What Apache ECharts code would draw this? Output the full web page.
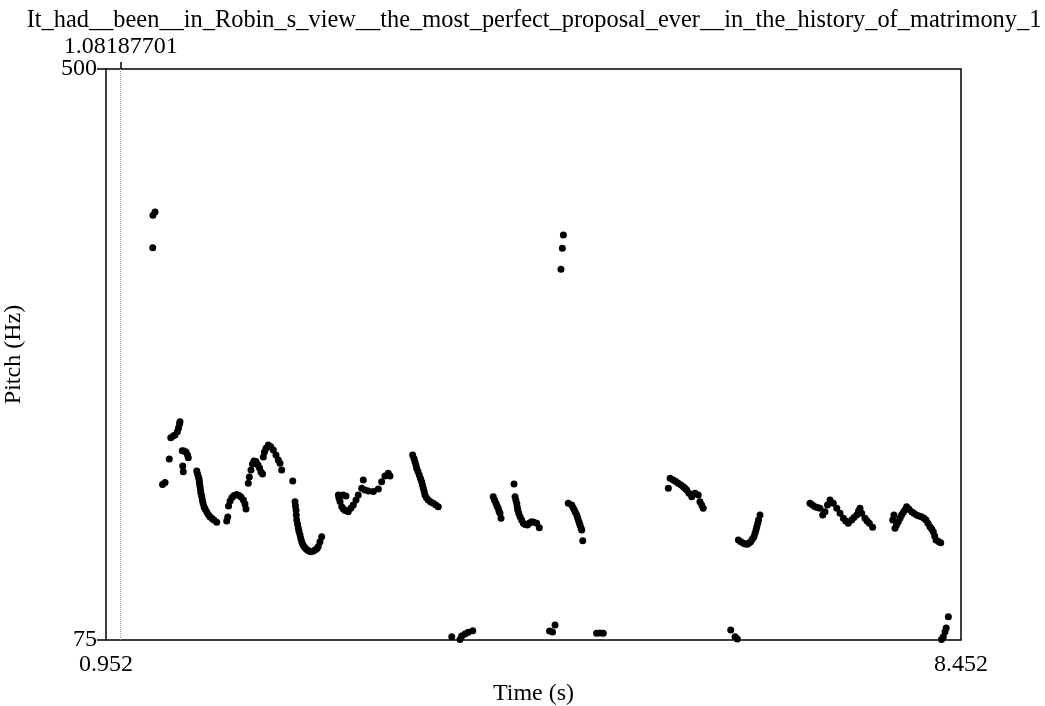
<!DOCTYPE html>
<html>
<head>
<meta charset="utf-8">
<script src="https://cdn.jsdelivr.net/npm/echarts@6/dist/echarts.min.js"></script>
<style>
  html, body { margin: 0; padding: 0; background: #fff; }
  #chart { width: 1045px; height: 706px; }
</style>
</head>
<body>
<div id="chart"></div>
<script>
const chartTitle = "It_had__been__in_Robin_s_view__the_most_perfect_proposal_ever__in_the_history_of_matrimony_1";
const cursorTime = 1.08187701;
const xTicks = [0.952, 8.452];
const yTicks = [75, 500];

// pitch track, time (s)
const times = [
  1.364, 1.382, 1.362,
  1.448, 1.470, 1.507,
  1.520, 1.542, 1.557, 1.578, 1.588, 1.597, 1.601,
  1.621, 1.636, 1.654, 1.667, 1.674, 1.625, 1.630,
  1.748, 1.755, 1.762, 1.768, 1.771, 1.774, 1.777, 1.781, 1.785, 1.792, 1.797, 1.803, 1.812, 1.821, 1.835, 1.849, 1.864, 1.882, 1.899, 1.923,
  2.011, 2.020, 2.027, 2.040, 2.057, 2.075, 2.099, 2.119, 2.136, 2.157, 2.171, 2.180,
  2.200, 2.209, 2.224, 2.237, 2.250, 2.268, 2.285, 2.299, 2.312, 2.325, 2.332, 2.342, 2.356, 2.376, 2.397, 2.420, 2.443, 2.463, 2.478, 2.493,
  2.590,
  2.610, 2.614, 2.619, 2.621, 2.625, 2.632, 2.639, 2.645, 2.654, 2.661, 2.669, 2.678, 2.689, 2.702, 2.718, 2.733, 2.748, 2.768, 2.785, 2.803, 2.814, 2.829, 2.844,
  2.990, 2.996, 3.005, 3.020, 3.034, 3.049, 3.077, 3.031, 3.057, 3.099, 3.121, 3.145, 3.165, 3.195, 3.209, 3.224, 3.253, 3.297, 3.341, 3.370, 3.399, 3.428, 3.443,
  3.642, 3.654, 3.662, 3.671, 3.677, 3.689, 3.700, 3.711, 3.721, 3.728, 3.735, 3.743, 3.750, 3.763, 3.779, 3.801, 3.823, 3.845, 3.867,
  3.985, 4.057, 4.072, 4.101, 4.130, 4.169,
  4.349, 4.360, 4.373, 4.382, 4.393, 4.399, 4.408, 4.417,
  4.531,
  4.540, 4.547, 4.555, 4.559, 4.564, 4.573, 4.584, 4.598, 4.613, 4.630, 4.648, 4.667, 4.686, 4.706, 4.730, 4.753,
  4.843, 4.869, 4.891,
  4.964, 4.955, 4.943,
  5.007, 5.037, 5.048, 5.060, 5.070, 5.081, 5.088, 5.095, 5.103, 5.110, 5.119, 5.125, 5.134,
  5.256, 5.285, 5.314,
  5.885, 5.900, 5.928, 5.950, 5.972, 5.996, 6.016, 6.031, 6.046, 6.066, 6.090, 6.119, 6.147, 6.162, 6.177, 6.191,
  6.432, 6.470, 6.490,
  6.499, 6.521, 6.543, 6.560, 6.578, 6.592, 6.607, 6.621, 6.636, 6.645, 6.654, 6.661, 6.669, 6.676, 6.689,
  7.127, 7.149, 7.171, 7.193, 7.215, 7.239, 7.259, 7.281, 7.303, 7.332, 7.362, 7.391, 7.420, 7.441, 7.463, 7.493, 7.513, 7.537, 7.553, 7.566, 7.581, 7.610, 7.628, 7.648, 7.677,
  7.853, 7.864, 7.873, 7.886, 7.902, 7.917, 7.931, 7.945, 7.960, 7.975, 7.995, 8.019, 8.039, 8.063, 8.083, 8.106, 8.127, 8.145, 8.162, 8.180, 8.195, 8.209, 8.221, 8.233, 8.255, 8.274,
  8.281, 8.297, 8.312, 8.322, 8.341
];

// pitch (Hz), same order as times
const pitches = [
  391.2, 393.6, 367.0,
  190.7, 192.2, 209.7,
  225.6, 226.8, 227.6, 230.0, 232.8, 235.8, 237.5,
  215.9, 215.7, 214.9, 212.7, 210.7, 204.5, 200.2,
  200.8, 198.6, 196.5, 194.8, 192.8, 191.1, 189.1, 186.6, 184.2, 181.8, 179.2, 177.0, 174.2, 172.5, 170.5, 168.4, 166.8, 165.4, 164.3, 162.6,
  163.6, 166.5, 174.7, 178.4, 181.0, 182.5, 183.3, 182.5, 181.4, 179.2, 176.2, 172.5,
  191.6, 196.3, 201.5, 206.0, 208.2, 207.9, 205.3, 203.0, 200.0, 198.6, 211.2, 214.9, 217.7, 220.1, 218.9, 216.4, 212.7, 209.0, 206.5, 201.5,
  193.3,
  177.9, 174.7, 171.8, 168.0, 164.3, 161.3, 158.1, 155.8, 153.2, 150.5, 148.2, 146.1, 144.5, 143.1, 142.0, 141.2, 140.7, 141.0, 142.0, 143.1, 144.5, 148.2, 151.9,
  182.9, 180.7, 178.1, 174.2, 172.5, 171.4, 170.5, 182.9, 182.2, 173.0, 175.5, 179.2, 182.9, 187.9, 194.1, 186.6, 185.9, 185.5, 187.4, 192.8, 197.1, 199.1, 197.1,
  212.7, 210.1, 207.7, 205.3, 202.8, 200.4, 197.8, 195.2, 192.8, 190.4, 187.9, 185.5, 182.9, 180.8, 179.2, 177.8, 176.7, 175.5, 174.2,
  77.5, 75.4, 78.0, 79.5, 80.7, 81.9,
  181.7, 179.2, 176.8, 174.7, 173.0, 171.0, 169.3, 165.6,
  191.1,
  181.7, 179.2, 176.8, 174.2, 171.8, 169.3, 166.8, 164.3, 161.9, 161.0, 160.6, 162.1, 163.0, 162.6, 161.9, 158.6,
  81.7, 81.0, 86.2,
  376.4, 366.5, 350.9,
  176.8, 175.5, 173.6, 171.8, 169.9, 168.0, 166.2, 164.3, 162.5, 160.6, 158.4, 156.9, 148.9,
  80.0, 80.2, 80.0,
  187.9, 195.3, 194.1, 193.0, 191.6, 190.4, 189.1, 187.9, 186.6, 184.2, 181.7, 184.2, 182.9, 177.9, 175.5, 173.0,
  82.4, 77.5, 75.7,
  149.4, 148.2, 147.0, 146.4, 146.2, 147.2, 148.2, 150.0, 151.9, 154.4, 156.9, 159.3, 161.9, 164.3, 168.0,
  176.8, 175.5, 174.2, 173.6, 173.0, 168.0, 170.5, 175.5, 179.2, 176.8, 173.0, 169.3, 165.6, 163.6, 161.9, 164.3, 166.2, 168.0, 171.0, 173.0, 169.3, 165.6, 163.6, 161.9, 158.9,
  164.3, 168.0, 158.1, 160.6, 163.0, 165.6, 168.0, 169.9, 171.8, 174.2, 172.5, 170.5, 169.3, 168.0, 167.3, 166.8, 165.6, 164.3, 161.9, 159.3, 157.6, 155.6, 152.4, 149.4, 148.3, 147.4,
  75.4, 77.5, 81.2, 84.0, 92.3
];

const font = "Liberation Serif";
const chart = echarts.init(document.getElementById("chart"));

let points = [];
times.forEach((t, i) => {
  points.push([t, pitches[i]]);
});

let option = {
  animation: false,
  title: {
    text: chartTitle,
    left: 529,
    top: 4,
    textAlign: "center",
    textStyle: {
      fontFamily: font,
      fontSize: 24.4,
      fontWeight: "normal",
      color: "#000",
    },
  },
  grid: {
    left: 106,
    right: 84,
    top: 69,
    bottom: 66,
    containLabel: false,
    outerBoundsMode: "none",
    show: true,
    borderColor: "#000",
    borderWidth: 1.5,
  },
  xAxis: [
    {
      type: "value",
      min: xTicks[0],
      max: xTicks[1],
      name: "Time (s)",
      nameLocation: "middle",
      nameGap: 42,
      nameTextStyle: { fontFamily: font, fontSize: 24, color: "#000" },
      axisLine: { show: false },
      axisTick: { show: false },
      splitLine: { show: false },
      axisLabel: {
        customValues: xTicks,
        formatter: (v) => v.toFixed(3),
        fontFamily: font,
        fontSize: 24,
        color: "#000",
        margin: 13,
      },
    },
    {
      type: "value",
      position: "top",
      min: xTicks[0],
      max: xTicks[1],
      axisLine: { show: false },
      splitLine: { show: false },
      axisTick: {
        customValues: [cursorTime],
        length: 7,
        lineStyle: { color: "#000", width: 1.5 },
      },
      axisLabel: {
        customValues: [cursorTime],
        formatter: (v) => String(v),
        fontFamily: font,
        fontSize: 24,
        color: "#000",
        margin: 10,
      },
    },
  ],
  yAxis: {
    type: "value",
    min: yTicks[0],
    max: yTicks[1],
    name: "Pitch (Hz)",
    nameLocation: "middle",
    nameRotate: 90,
    nameGap: 80,
    nameTextStyle: { fontFamily: font, fontSize: 24, color: "#000" },
    axisLine: { show: false },
    splitLine: { show: false },
    axisTick: {
      customValues: yTicks,
      length: 9,
      lineStyle: { color: "#000", width: 1.5 },
    },
    axisLabel: {
      customValues: yTicks,
      fontFamily: font,
      fontSize: 24,
      color: "#000",
      margin: 9,
    },
  },
  series: [
    {
      type: "scatter",
      data: points,
      symbol: "circle",
      symbolSize: 7,
      itemStyle: { color: "#000", opacity: 1 },
      silent: true,
      markLine: {
        silent: true,
        symbol: "none",
        label: { show: false },
        lineStyle: { type: "dotted", color: "#999", width: 1 },
        data: [{ xAxis: cursorTime }],
      },
    },
  ],
};
chart.setOption(option);
</script>
</body>
</html>
